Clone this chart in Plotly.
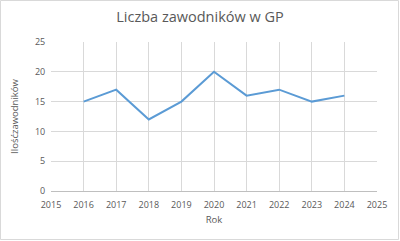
import plotly.graph_objects as go

years = [2016, 2017, 2018, 2019, 2020, 2021, 2022, 2023, 2024]
players = [15, 17, 12, 15, 20, 16, 17, 15, 16]

W, H = 400, 241
ml, mr, mt, mb = 51, 23, 42, 50
pw, ph = W - ml - mr, H - mt - mb

fig = go.Figure()
fig.add_trace(go.Scatter(x=years, y=players, mode="lines",
                         line=dict(color="#5B9BD5", width=2)))

fc = "#595959"
fig.update_layout(
    width=W, height=H,
    margin=dict(l=ml, r=mr, t=mt, b=mb),
    paper_bgcolor="white", plot_bgcolor="white",
    showlegend=False,
    font=dict(family="Open Sans", color=fc, size=9),
    title=dict(text="Liczba zawodników w GP", x=0.5, xanchor="center",
               y=1 - 17 / H, yanchor="middle",
               font=dict(size=14.5, color=fc)),
    xaxis=dict(range=[2015, 2025], dtick=1, tick0=2015, showgrid=True,
               gridcolor="#D9D9D9", gridwidth=1, zeroline=False,
               showline=True, linecolor="#BFBFBF",
               ticks="outside", ticklen=5, tickcolor="rgba(0,0,0,0)",
               tickfont=dict(size=9, color=fc),
               title=dict(text="Rok", font=dict(size=9.5, color=fc), standoff=6)),
    yaxis=dict(range=[0, 25], dtick=5, showgrid=True, gridcolor="#D9D9D9",
               zeroline=False, showline=False,
               ticks="outside", ticklen=3, tickcolor="rgba(0,0,0,0)",
               tickfont=dict(size=9, color=fc),
               title=dict(text="Ilośćzawodników", font=dict(size=9.5, color=fc), standoff=14)),
)
fig.add_shape(type="rect", xref="paper", yref="paper",
              x0=-(ml - 0.5) / pw, x1=1 + (mr - 1.5) / pw,
              y0=-(mb - 1.5) / ph, y1=1 + (mt - 0.5) / ph,
              line=dict(color="#D9D9D9", width=1), layer="below")
fig.write_html("out.html")
